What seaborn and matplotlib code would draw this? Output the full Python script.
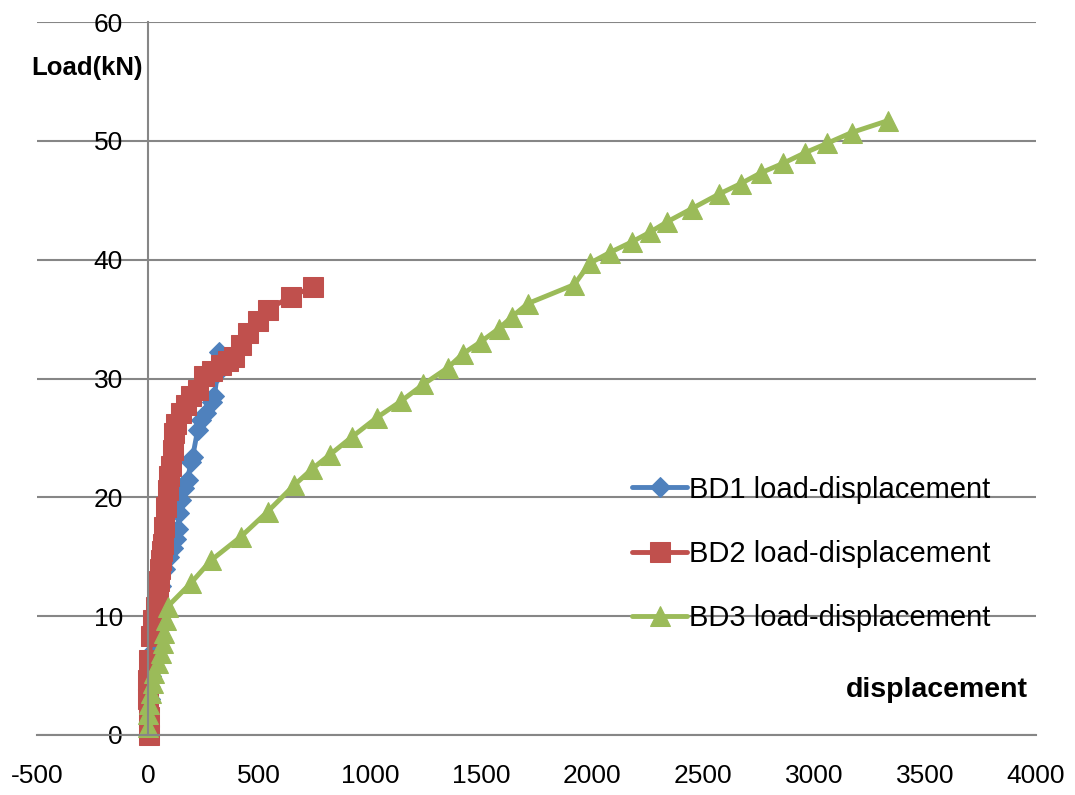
import matplotlib
matplotlib.use("Agg")
import matplotlib.pyplot as plt
import pandas as pd
import seaborn as sns

# load-displacement readings
bd1_disp = [3, 5, 6, 8, 10, 12, 14, 16, 18, 22, 28, 40, 60, 75, 95, 111, 125, 133, 141, 149,
            160, 178, 194, 201, 224, 240, 261, 290, 299, 313, 322]
bd1_load = [0, 1, 2, 3, 4, 5, 6, 7, 8, 9, 10, 11, 12.5, 14, 15, 15.7, 16.5, 17.3, 18.7, 19.8,
            20.8, 21.5, 23, 23.4, 25.7, 26.5, 27.1, 28, 28.5, 30.5, 32.2]

bd2_disp = [5, 5, 0, 0, 6, 13, 21, 36, 45, 51, 55, 58, 62, 66, 72, 81, 88, 96, 104, 111, 119,
            126, 149, 170, 194, 224, 254, 290, 329, 360, 389, 419, 449, 494, 539, 644, 741]
bd2_load = [0, 1.5, 3, 4.6, 6.3, 8.3, 9.7, 10.8, 12, 13, 14, 14.7, 15.5, 16.1, 17.5, 19.2, 20.6,
            21.8, 22.6, 24, 25.4, 26.2, 27.1, 27.8, 28.5, 29, 30.2, 30.6, 31.1, 31.5, 31.8, 32.8,
            33.8, 34.8, 35.8, 36.9, 37.7]

bd3_disp = [0, 0, 6, 13, 21, 28, 44, 58, 66, 73, 81, 88, 194, 284, 419, 539, 657, 740, 820,
            920, 1030, 1140, 1240, 1350, 1420, 1500, 1580, 1640, 1710, 1920, 1990, 2080, 2180,
            2260, 2340, 2450, 2570, 2670, 2760, 2860, 2960, 3060, 3170, 3333]
bd3_load = [0.7, 1.8, 2.6, 3.5, 4.4, 5.2, 6.1, 6.9, 7.7, 8.6, 9.7, 10.8, 12.8, 14.7, 16.7, 18.8,
            21.0, 22.4, 23.6, 25.1, 26.7, 28.1, 29.5, 30.9, 32.1, 33.1, 34.2, 35.2, 36.3, 37.9,
            39.7, 40.6, 41.5, 42.3, 43.2, 44.3, 45.5, 46.4, 47.3, 48.1, 49.0, 49.8, 50.7, 51.7]

names = ["BD1 load-displacement", "BD2 load-displacement", "BD3 load-displacement"]
colors = ["#4F81BD", "#C0504D", "#9BBB59"]
markers = ["D", "s", "^"]
msizes = [10, 14, 14]

sns.set_style("white")
plt.rcParams['font.family'] = ['Liberation Sans', 'DejaVu Sans']
plt.rcParams['axes.unicode_minus'] = False
plt.rcParams['text.color'] = 'black'

fig = plt.figure(figsize=(10.75, 7.95), dpi=100)
ax = fig.add_axes([37 / 1075, 1 - 735 / 795, (1036 - 37) / 1075, (735 - 22) / 795])

series = [(bd1_disp, bd1_load), (bd2_disp, bd2_load), (bd3_disp, bd3_load)]
for (xs, ys), name, c, m, ms in zip(series, names, colors, markers, msizes):
    df = pd.DataFrame({"displacement": xs, "load": ys})
    sns.lineplot(data=df, x="displacement", y="load", ax=ax, sort=False, estimator=None,
                 color=c, marker=m, markersize=ms, markeredgecolor=c, linewidth=3.5,
                 label=name, clip_on=False)

ax.set_xlim(-500, 4000)
ax.set_ylim(0, 60)
ax.set_xticks(range(-500, 4001, 500))
ax.set_yticks(range(0, 61, 10))
ax.set_xlabel("")
ax.set_ylabel("")

ax.yaxis.grid(True, color="#868686", linewidth=1.5)
ax.xaxis.grid(False)
ax.set_axisbelow(True)

for s in ["top", "right"]:
    ax.spines[s].set_visible(False)
ax.spines["left"].set_position(("data", 0))
ax.spines["left"].set_color("#868686")
ax.spines["left"].set_linewidth(1.5)
ax.spines["bottom"].set_color("#868686")
ax.spines["bottom"].set_linewidth(1.5)

ax.tick_params(axis="x", direction="in", length=5, width=1.5, color="#868686",
               labelsize=19, pad=21, labelcolor="black")
ax.tick_params(axis="y", length=0, labelsize=19, pad=18, labelcolor="black")

leg = ax.legend(loc="center left", bbox_to_anchor=(595 / 999, (735 - 554) / 713),
                frameon=False, fontsize=21, handlelength=1.9, handletextpad=0.05,
                labelspacing=1.25, borderaxespad=0, borderpad=0)
for t in leg.get_texts():
    t.set_color("black")

fig.text(143 / 1075, 1 - 68 / 795, "Load(kN)", ha="right", va="center",
         fontsize=18.5, fontweight="bold", color="black")
fig.text(1028 / 1075, 1 - 690 / 795, "displacement", ha="right", va="center",
         fontsize=20.5, fontweight="bold", color="black")

fig.savefig("out.png", dpi=100)
